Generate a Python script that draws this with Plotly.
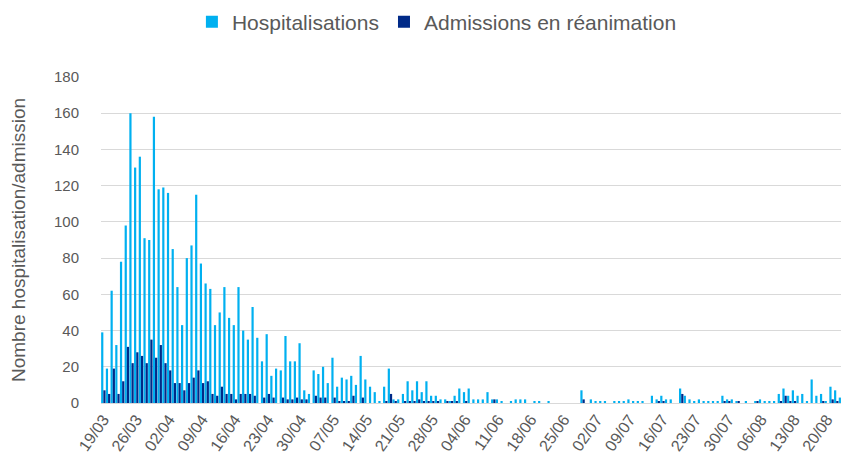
import pandas as pd
import plotly.graph_objects as go

# Daily categories 19/03 -> 24/08
dates = [d.strftime("%d/%m") for d in pd.date_range("2020-03-19", "2020-08-24", freq="D")]

tick_labels = ["19/03", "26/03", "02/04", "09/04", "16/04", "23/04", "30/04", "07/05",
               "14/05", "21/05", "28/05", "04/06", "11/06", "18/06", "25/06", "02/07",
               "09/07", "16/07", "23/07", "30/07", "06/08", "13/08", "20/08"]

hospitalisations = [
    39, 19, 62, 32, 78, 98, 160, 130, 136, 91,
    90, 158, 118, 119, 116, 85, 64, 43, 80, 87,
    115, 77, 66, 63, 43, 50, 64, 47, 43, 64,
    40, 35, 53, 36, 23, 38, 15, 19, 18, 37,
    23, 23, 33, 7, 5, 18, 16, 20, 11, 25,
    9, 14, 13, 15, 10, 26, 13, 9, 6, 1,
    9, 19, 2, 2, 5, 12, 7, 12, 6, 12,
    4, 4, 2, 2, 1, 4, 8, 6, 8, 2,
    2, 2, 6, 2, 2, 1, 0, 1, 2, 2,
    2, 0, 1, 1, 0, 1, 0, 0, 0, 0,
    0, 0, 7, 0, 2, 1, 1, 1, 0, 1,
    1, 1, 2, 1, 1, 1, 0, 4, 2, 4,
    2, 2, 0, 8, 4, 2, 1, 2, 1, 1,
    1, 1, 4, 2, 2, 1, 0, 1, 0, 1,
    2, 1, 1, 1, 5, 8, 4, 7, 4, 5,
    1, 13, 4, 5, 1, 9, 7, 3, 8,
]

reanimation = [
    7, 5, 19, 5, 12, 31, 22, 28, 26, 22,
    35, 25, 32, 22, 18, 11, 11, 7, 11, 14,
    18, 11, 12, 5, 4, 9, 5, 5, 2, 5,
    5, 5, 4, 0, 3, 5, 3, 0, 3, 2,
    2, 3, 2, 2, 0, 4, 3, 3, 0, 3,
    1, 1, 1, 4, 0, 3, 0, 0, 0, 0,
    1, 5, 1, 0, 1, 1, 1, 2, 1, 1,
    1, 1, 0, 1, 1, 1, 0, 1, 0, 0,
    0, 0, 0, 2, 0, 0, 0, 0, 0, 0,
    0, 0, 0, 0, 0, 0, 0, 0, 0, 0,
    0, 0, 2, 0, 0, 0, 0, 0, 0, 0,
    0, 0, 0, 0, 0, 0, 0, 0, 1, 1,
    0, 0, 0, 5, 0, 0, 0, 0, 0, 0,
    0, 0, 1, 1, 0, 1, 0, 0, 0, 1,
    0, 0, 0, 0, 1, 4, 1, 1, 0, 0,
    0, 0, 0, 1, 0, 2, 1, 0, 3,
]

FONT = "Liberation Sans, Arial, sans-serif"
GREY = "#595959"

fig = go.Figure()
fig.add_trace(go.Bar(x=dates, y=hospitalisations, name="Hospitalisations",
                     marker=dict(color="#00b0f0", line=dict(width=0))))
fig.add_trace(go.Bar(x=dates, y=reanimation, name="Admissions en réanimation",
                     marker=dict(color="#002a88", line=dict(width=0))))

# page body has an 8px default margin, so the figure is sized to fit the window
fig.update_layout(
    width=841, height=456,
    margin=dict(l=93, r=1, t=69, b=61, autoexpand=False),
    paper_bgcolor="white", plot_bgcolor="white",
    barmode="group", bargap=0.06, bargroupgap=0.0,
    font=dict(family=FONT, color=GREY),
    legend=dict(orientation="h", xref="container", yref="container",
                x=0.51, xanchor="center", y=1 - 14 / 456, yanchor="middle",
                font=dict(size=21, color=GREY), itemwidth=30,
                traceorder="normal"),
    showlegend=True,
)
fig.update_xaxes(type="category", categoryorder="array", categoryarray=dates,
                 tickmode="array", tickvals=tick_labels, ticktext=tick_labels,
                 tickangle=-55, tickfont=dict(size=16, color=GREY),
                 showgrid=False, showline=False, ticks="", ticklabelstandoff=3,
                 automargin=False)
fig.update_yaxes(range=[0, 180], dtick=20, tickfont=dict(size=15, color=GREY),
                 showgrid=True, gridcolor="#d9d9d9", gridwidth=1,
                 zeroline=True, zerolinecolor="#d9d9d9", zerolinewidth=1,
                 ticklabelstandoff=21, automargin=False,
                 title=dict(text="Nombre hospitalisation/admission",
                            font=dict(size=19, color=GREY), standoff=24))

fig.write_html("out.html")
